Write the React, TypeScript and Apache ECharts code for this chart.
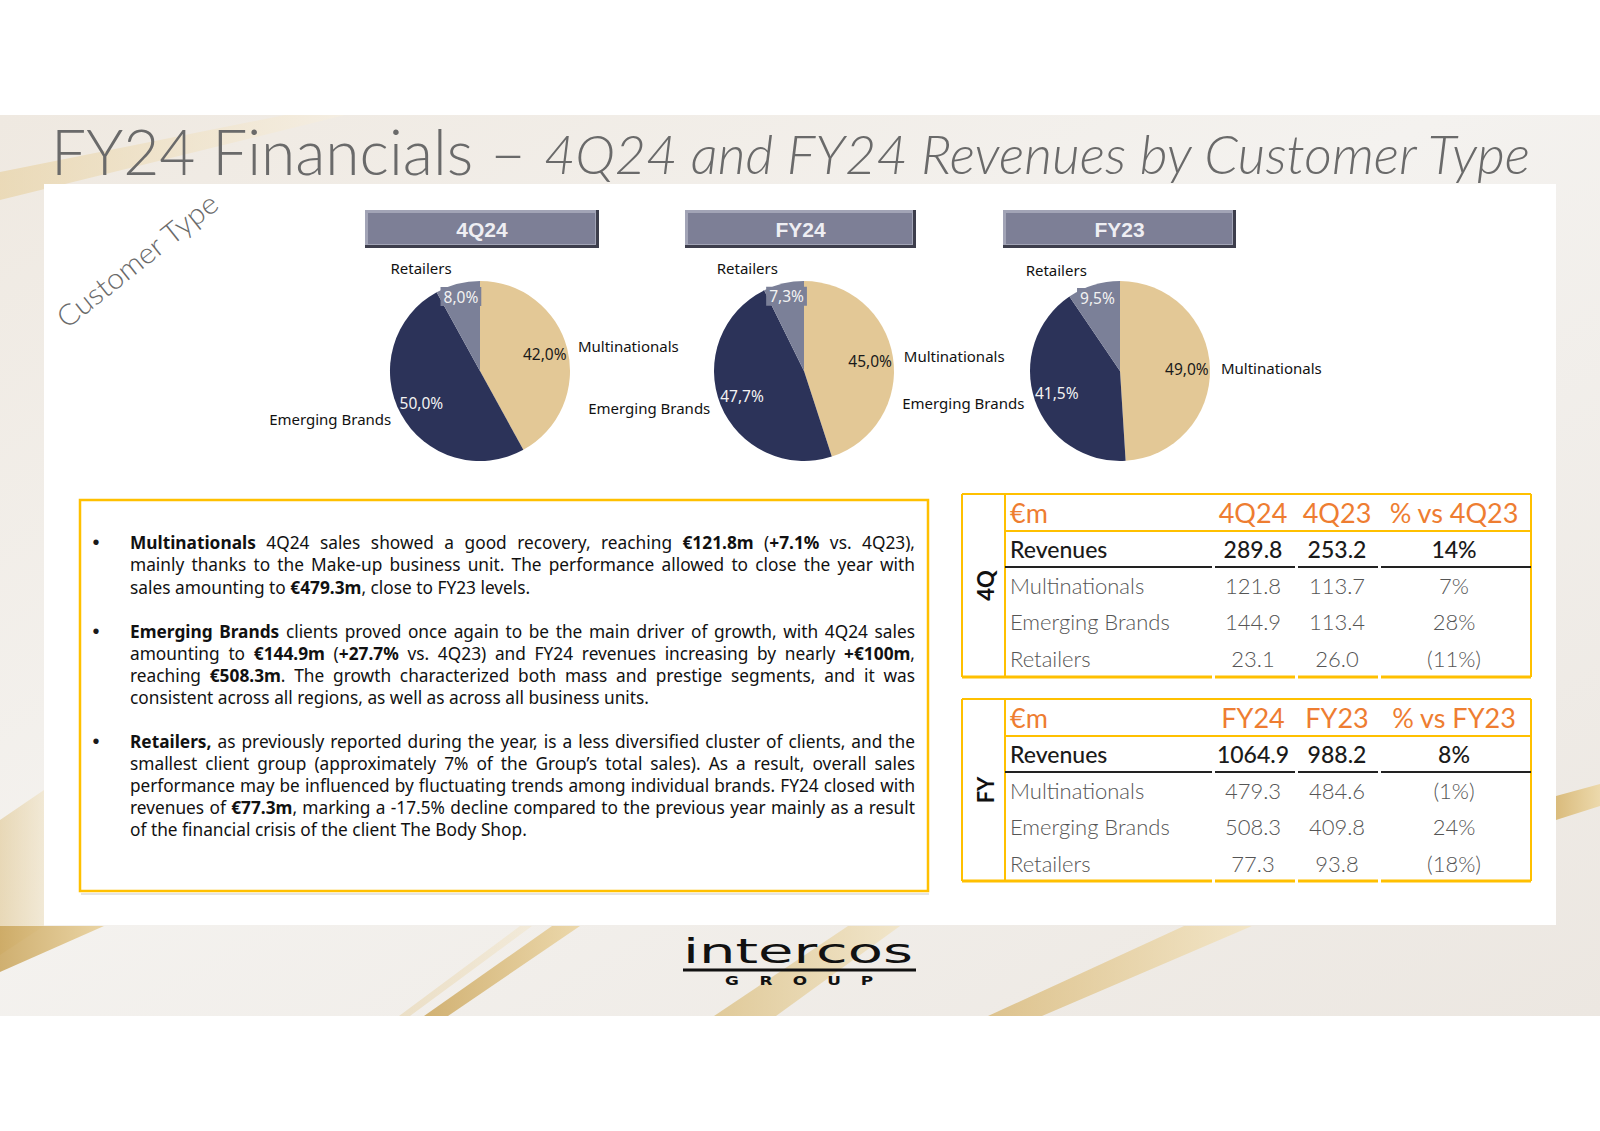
import React, { useEffect, useRef } from 'react';
import * as echarts from 'echarts';

// ---------------- DATA ----------------
const pieCategories = ['Multinationals', 'Emerging Brands', 'Retailers'];
const pieTitles = ['4Q24', 'FY24', 'FY23'];
const share4Q24 = [42.0, 50.0, 8.0];
const shareFY24 = [45.0, 47.7, 7.3];
const shareFY23 = [49.0, 41.5, 9.5];

const tableRowLabels = ['Revenues', 'Multinationals', 'Emerging Brands', 'Retailers'];
const quarterHeader = ['€m', '4Q24', '4Q23', '% vs 4Q23'];
const quarter2024 = [289.8, 121.8, 144.9, 23.1];
const quarter2023 = [253.2, 113.7, 113.4, 26.0];
const quarterChange = [14, 7, 28, -11];
const yearHeader = ['€m', 'FY24', 'FY23', '% vs FY23'];
const year2024 = [1064.9, 479.3, 508.3, 77.3];
const year2023 = [988.2, 484.6, 409.8, 93.8];
const yearChange = [8, -1, 24, -18];

const titleMain = 'FY24 Financials –';
const titleSub = '4Q24 and FY24 Revenues by Customer Type';
const cornerLabel = 'Customer Type';
const logoWord = 'intercos';
const logoSub = ['G', 'R', 'O', 'U', 'P'];

const bulletParagraphs = [
  [
    '*Multinationals* 4Q24 sales showed a good recovery, reaching *€121.8m* (*+7.1%* vs. 4Q23),',
    'mainly thanks to the Make-up business unit. The performance allowed to close the year with',
    'sales amounting to *€479.3m*, close to FY23 levels.',
  ],
  [
    '*Emerging Brands* clients proved once again to be the main driver of growth, with 4Q24 sales',
    'amounting to *€144.9m* (*+27.7%* vs. 4Q23) and FY24 revenues increasing by nearly *+€100m*,',
    'reaching *€508.3m*. The growth characterized both mass and prestige segments, and it was',
    'consistent across all regions, as well as across all business units.',
  ],
  [
    '*Retailers,* as previously reported during the year, is a less diversified cluster of clients, and the',
    'smallest client group (approximately 7% of the Group’s total sales). As a result, overall sales',
    'performance may be influenced by fluctuating trends among individual brands. FY24 closed with',
    'revenues of *€77.3m*, marking a -17.5% decline compared to the previous year mainly as a result',
    'of the financial crisis of the client The Body Shop.',
  ],
];

// ---------------- STYLE / LAYOUT ----------------
const pieColors = ['#E3C896', '#2C3359', '#7B8098'];
const pctColors = ['#1a1a1a', '#f2f2f2', '#f2f2f2'];
const GOLD = '#FFC000';
const ORANGE = '#EE7D31';
const BODY_FONT = 'Noto Sans';

const canvas = typeof document !== 'undefined' ? document.createElement('canvas') : null;
const ctx = canvas ? canvas.getContext('2d') : null;
function tw(text: string, font: string) {
  if (!ctx) return text.length * 8;
  ctx.font = font;
  return ctx.measureText(text).width;
}

const fmtPct = (v: number) => v.toFixed(1).replace('.', ',') + '%';
const fmtChg = (v: number) => (v < 0 ? `(${-v}%)` : `${v}%`);

function txt(x: number, y: number, text: string, o: any = {}) {
  const { align = 'left', size = 16, family = 'Lato', weight = 400, color = '#1a1a1a', italic = false, scaleX, rotation, z = 5 } = o;
  const el: any = {
    type: 'text',
    x,
    y,
    z,
    silent: true,
    style: {
      text,
      fontSize: size,
      fontFamily: family,
      fontWeight: weight,
      fontStyle: italic ? 'italic' : 'normal',
      fill: color,
      textAlign: align,
      textVerticalAlign: 'middle',
      verticalAlign: 'middle',
    },
  };
  if (scaleX) el.scaleX = scaleX;
  if (rotation) el.rotation = rotation;
  return el;
}

type Piece = { t: string; bold: boolean };
function parseLine(line: string) {
  const words: Piece[][] = [];
  let cur: Piece[] = [];
  let buf = '';
  let bold = false;
  const flush = () => {
    if (buf) {
      cur.push({ t: buf, bold });
      buf = '';
    }
  };
  for (const ch of line) {
    if (ch === '*') {
      flush();
      bold = !bold;
    } else if (ch === ' ') {
      flush();
      if (cur.length) {
        words.push(cur);
        cur = [];
      }
    } else buf += ch;
  }
  flush();
  if (cur.length) words.push(cur);
  return words;
}

function buildBody(g: any[]) {
  const X0 = 130;
  const W = 785;
  const lineYs = [
    [542, 564, 587],
    [631, 653, 675, 697],
    [741, 763, 785, 807, 829],
  ];
  const font = (b: boolean, fs: number) => `${b ? 700 : 400} ${fs}px "${BODY_FONT}"`;
  const wordW = (w: Piece[], fs: number) => w.reduce((s, p) => s + tw(p.t, font(p.bold, fs)), 0);
  const refLine = bulletParagraphs[2][4];
  const refWords = parseLine(refLine);
  const natAt16 = refWords.reduce((s, w) => s + wordW(w, 16), 0) + (refWords.length - 1) * tw(' ', font(false, 16));
  const fs = Math.min(18, Math.max(14, (16 * 397) / natAt16));
  const space = tw(' ', font(false, fs));
  bulletParagraphs.forEach((para, pi) => {
    g.push(txt(96, lineYs[pi][0], '•', { size: fs * 1.15, family: 'Liberation Sans', color: '#1a1a1a', align: 'center' }));
    para.forEach((line, li) => {
      const words = parseLine(line);
      const widths0 = words.map((w) => wordW(w, fs));
      const sum0 = widths0.reduce((a, b) => a + b, 0);
      const last = li === para.length - 1;
      const nat = sum0 + (words.length - 1) * space;
      const sx = !last && nat > W * 0.99 ? (W * 0.99) / nat : 1;
      const widths = widths0.map((v) => v * sx);
      const sum = sum0 * sx;
      const gap = last || words.length < 2 ? space : (W - sum) / (words.length - 1);
      let x = X0;
      const y = lineYs[pi][li];
      words.forEach((w, wi) => {
        let px = x;
        w.forEach((p) => {
          g.push(txt(px, y, p.t, { size: fs, family: BODY_FONT, weight: p.bold ? 700 : 400, color: '#111', scaleX: sx !== 1 ? sx : undefined }));
          px += tw(p.t, font(p.bold, fs)) * sx;
        });
        x += widths[wi] + gap;
      });
    });
  });
}

function buildTable(g: any[], edges: number[], header: string[], a: number[], b: number[], chg: number[], side: string) {
  const X0 = 962;
  const XL = 1005;
  const X1 = 1531;
  const colCenters = [1253, 1337, 1454];
  const segs = [
    [X0, 1212],
    [1215, 1295],
    [1298, 1378],
    [1381, X1],
  ];
  const centers = edges.slice(0, -1).map((e, i) => (e + edges[i + 1]) / 2);
  g.push(txt(1010, centers[0], header[0], { size: 27, color: ORANGE, weight: 400 }));
  for (let c = 1; c < 4; c++) g.push(txt(colCenters[c - 1], centers[0], header[c], { size: 27, color: ORANGE, align: 'center' }));
  tableRowLabels.forEach((lab, r) => {
    const y = centers[r + 1];
    const o = r === 0 ? { size: 23, color: '#1a1a1a', weight: 500 } : { size: 22, color: '#555', weight: 300 };
    g.push(txt(1010, y, lab, o));
    g.push(txt(colCenters[0], y, a[r].toFixed(1), { ...o, align: 'center' }));
    g.push(txt(colCenters[1], y, b[r].toFixed(1), { ...o, align: 'center' }));
    g.push(txt(colCenters[2], y, fmtChg(chg[r]), { ...o, align: 'center' }));
  });
  const ln = (x1: number, y1: number, x2: number, y2: number, stroke: string, lw: number) =>
    g.push({ type: 'line', z: 4, silent: true, shape: { x1, y1, x2, y2 }, style: { stroke, lineWidth: lw } });
  ln(X0, edges[0], X1, edges[0], GOLD, 2);
  ln(XL, edges[1], X1, edges[1], GOLD, 2);
  ln(X0, edges[0], X0, edges[5], GOLD, 2);
  ln(XL, edges[0], XL, edges[5], GOLD, 2);
  ln(X1, edges[0], X1, edges[5], GOLD, 2);
  segs.forEach(([s, e], i) => {
    ln(i === 0 ? XL : s, edges[2], e, edges[2], '#222', 2);
    ln(s, edges[5], e, edges[5], GOLD, 3);
  });
  g.push(txt(985, (edges[0] + edges[5]) / 2, side, { size: 22, weight: 700, color: '#111', align: 'center', rotation: Math.PI / 2 }));
}

function buildOption() {
  const g: any[] = [];
  g.push({
    type: 'rect', z: 0, silent: true,
    shape: { x: 0, y: 115, width: 1600, height: 901 },
    style: {
      fill: new echarts.graphic.LinearGradient(0, 0, 1, 1, [
        { offset: 0, color: '#efe9e1' },
        { offset: 0.45, color: '#f4f2ef' },
        { offset: 1, color: '#ece7e1' },
      ]),
    },
  });
  const streak = (pts: number[][], c1: string, c2: string, op: number) =>
    g.push({
      type: 'polygon', z: 0, silent: true,
      shape: { points: pts },
      style: { fill: new echarts.graphic.LinearGradient(0, 0, 1, 0, [{ offset: 0, color: c1 }, { offset: 1, color: c2 }]), opacity: op },
    });
  streak([[0, 172], [285, 115], [345, 115], [0, 200]], '#e8d3a6', '#f6efe2', 0.7);
  streak([[0, 820], [44, 790], [44, 926], [0, 955]], '#dcbf80', '#efe0bd', 0.5);
  streak([[0, 926], [104, 926], [0, 972]], '#c9a45a', '#e8cf97', 0.85);
  streak([[552, 926], [580, 926], [448, 1016], [424, 1016]], '#c9a255', '#ead29b', 0.8);
  streak([[520, 926], [532, 926], [410, 1016], [399, 1016]], '#e6d2a8', '#f2e6cb', 0.55);
  streak([[848, 926], [900, 926], [776, 1016], [714, 1016]], '#d9bb78', '#f1e2bd', 0.7);
  streak([[1184, 926], [1252, 926], [1042, 1016], [988, 1016]], '#d7b570', '#f3e3bc', 0.75);
  streak([[1556, 796], [1600, 784], [1600, 806], [1556, 820]], '#d6b36a', '#ecd6a2', 0.85);
  g.push({ type: 'rect', z: 1, silent: true, shape: { x: 44, y: 184, width: 1512, height: 741 }, style: { fill: '#ffffff' } });

  // title
  const f1 = `300 63px Lato`;
  const s1 = 475 / tw(titleMain, f1);
  g.push(txt(51, 150, titleMain, { size: 63, weight: 300, color: '#6a6a6a', scaleX: s1 }));
  const f2 = `italic 300 53px Lato`;
  const s2 = 990 / tw(titleSub, f2);
  g.push(txt(544, 153, titleSub, { size: 53, weight: 300, italic: true, color: '#6a6a6a', scaleX: s2 }));

  // corner label
  const fc = `300 29px Lato`;
  const sc = 198 / tw(cornerLabel, fc);
  g.push({
    type: 'group', x: 144, y: 269, rotation: 0.67, z: 5,
    children: [
      { ...txt(0, -12, cornerLabel, { size: 29, weight: 300, color: '#6a6a6a', align: 'center', scaleX: sc }) },
      { type: 'line', silent: true, shape: { x1: -104, y1: 2, x2: 104, y2: 2 }, style: { stroke: '#8a8a8a', lineWidth: 1.2 } },
    ],
  });

  // pie header boxes
  const boxes = [
    [365, 599],
    [685, 916],
    [1003, 1236],
  ];
  boxes.forEach(([x0, x1], i) => {
    const y0 = 210, h = 38, w = x1 - x0;
    g.push({ type: 'rect', z: 3, silent: true, shape: { x: x0, y: y0, width: w, height: h }, style: { fill: '#3d3e4c' } });
    g.push({ type: 'rect', z: 3, silent: true, shape: { x: x0, y: y0, width: w - 3, height: h - 3 }, style: { fill: '#a2a4b6' } });
    g.push({ type: 'rect', z: 3, silent: true, shape: { x: x0 + 3, y: y0 + 3, width: w - 7, height: h - 7 }, style: { fill: '#7d7f96' } });
    g.push(txt((x0 + x1) / 2, y0 + h / 2, pieTitles[i], { size: 21, family: 'Liberation Sans', weight: 700, color: '#eeeef3', align: 'center' }));
  });

  // text box
  g.push({ type: 'line', z: 2, silent: true, shape: { x1: 81, y1: 894, x2: 929, y2: 894 }, style: { stroke: '#e4e4e4', lineWidth: 2 } });
  g.push({ type: 'rect', z: 3, silent: true, shape: { x: 80, y: 500, width: 848, height: 391 }, style: { fill: '#fff', stroke: GOLD, lineWidth: 2.5 } });
  buildBody(g);

  // tables
  buildTable(g, [494, 531, 567, 603, 640, 677], quarterHeader, quarter2024, quarter2023, quarterChange, '4Q');
  buildTable(g, [699, 736, 772, 808, 845, 881], yearHeader, year2024, year2023, yearChange, 'FY');

  // logo
  const fl = `400 34px "DejaVu Sans"`;
  const sl = 230 / tw(logoWord, fl);
  g.push(txt(683, 951, logoWord, { size: 34, family: 'DejaVu Sans', color: '#111', scaleX: sl }));
  g.push({ type: 'rect', z: 5, silent: true, shape: { x: 683, y: 968.5, width: 233, height: 3 }, style: { fill: '#111' } });
  const subX = [732, 766, 800, 834, 867];
  logoSub.forEach((ch, i) => {
    g.push(txt(subX[i], 980.5, ch, { size: 13, family: 'DejaVu Sans', weight: 700, color: '#111', align: 'center', scaleX: 1.3 }));
  });

  // pies
  const shares = [share4Q24, shareFY24, shareFY23];
  const centersX = [480, 804, 1120];
  const CY = 371;
  const R = 90;
  const series: any[] = [];
  shares.forEach((sh, k) => {
    const common = {
      type: 'pie',
      center: [centersX[k], CY],
      startAngle: 90,
      clockwise: true,
      avoidLabelOverlap: false,
      silent: true,
      emphasis: { disabled: true },
      labelLine: { show: false, length: 9, length2: 0 },
    };
    series.push({
      ...common,
      z: 2,
      radius: [0, R],
      itemStyle: { borderWidth: 0 },
      label: { show: true, position: 'outside', formatter: '{b}', fontSize: 15, fontFamily: 'Noto Sans', color: '#111', distanceToLabelLine: 2 },
      data: pieCategories.map((n, i) => ({
        name: n,
        value: sh[i],
        itemStyle: { color: pieColors[i] },
        ...(i === 2 ? { labelLine: { show: false, length: 16, length2: 0 } } : {}),
      })),
    });
    series.push({
      ...common,
      z: 3,
      radius: [R * 0.42, R],
      itemStyle: { color: 'rgba(0,0,0,0)', borderWidth: 0 },
      label: { show: true, position: 'inside', fontSize: 15.5, fontFamily: 'Noto Sans', formatter: (p: any) => fmtPct(p.value) },
      data: pieCategories.map((n, i) => ({
        name: n,
        value: sh[i],
        label: { show: i < 2, color: pctColors[i] },
      })),
    });
    series.push({
      ...common,
      z: 3,
      radius: [R * 0.64, R],
      itemStyle: { color: 'rgba(0,0,0,0)', borderWidth: 0 },
      label: { show: true, position: 'inside', fontSize: 15.5, fontFamily: 'Noto Sans', formatter: (p: any) => fmtPct(p.value) },
      data: pieCategories.map((n, i) => ({
        name: n,
        value: sh[i],
        label: i === 2 ? { show: true, color: pctColors[i], backgroundColor: pieColors[2], padding: [2, 3, 1, 3] } : { show: false },
      })),
    });
  });

  return {
    animation: false,
    backgroundColor: '#ffffff',
    graphic: { elements: g },
    series,
  };
}

export default function App() {
  const ref = useRef<HTMLDivElement>(null);
  useEffect(() => {
    const el = ref.current;
    if (!el) return;
    const chart = echarts.init(el, null, { renderer: 'svg' });
    chart.setOption(buildOption() as any);
    return () => chart.dispose();
  }, []);
  return <div ref={ref} style={{ position: 'absolute', left: 0, top: 0, width: 1600, height: 1131, background: '#fff' }} />;
}
